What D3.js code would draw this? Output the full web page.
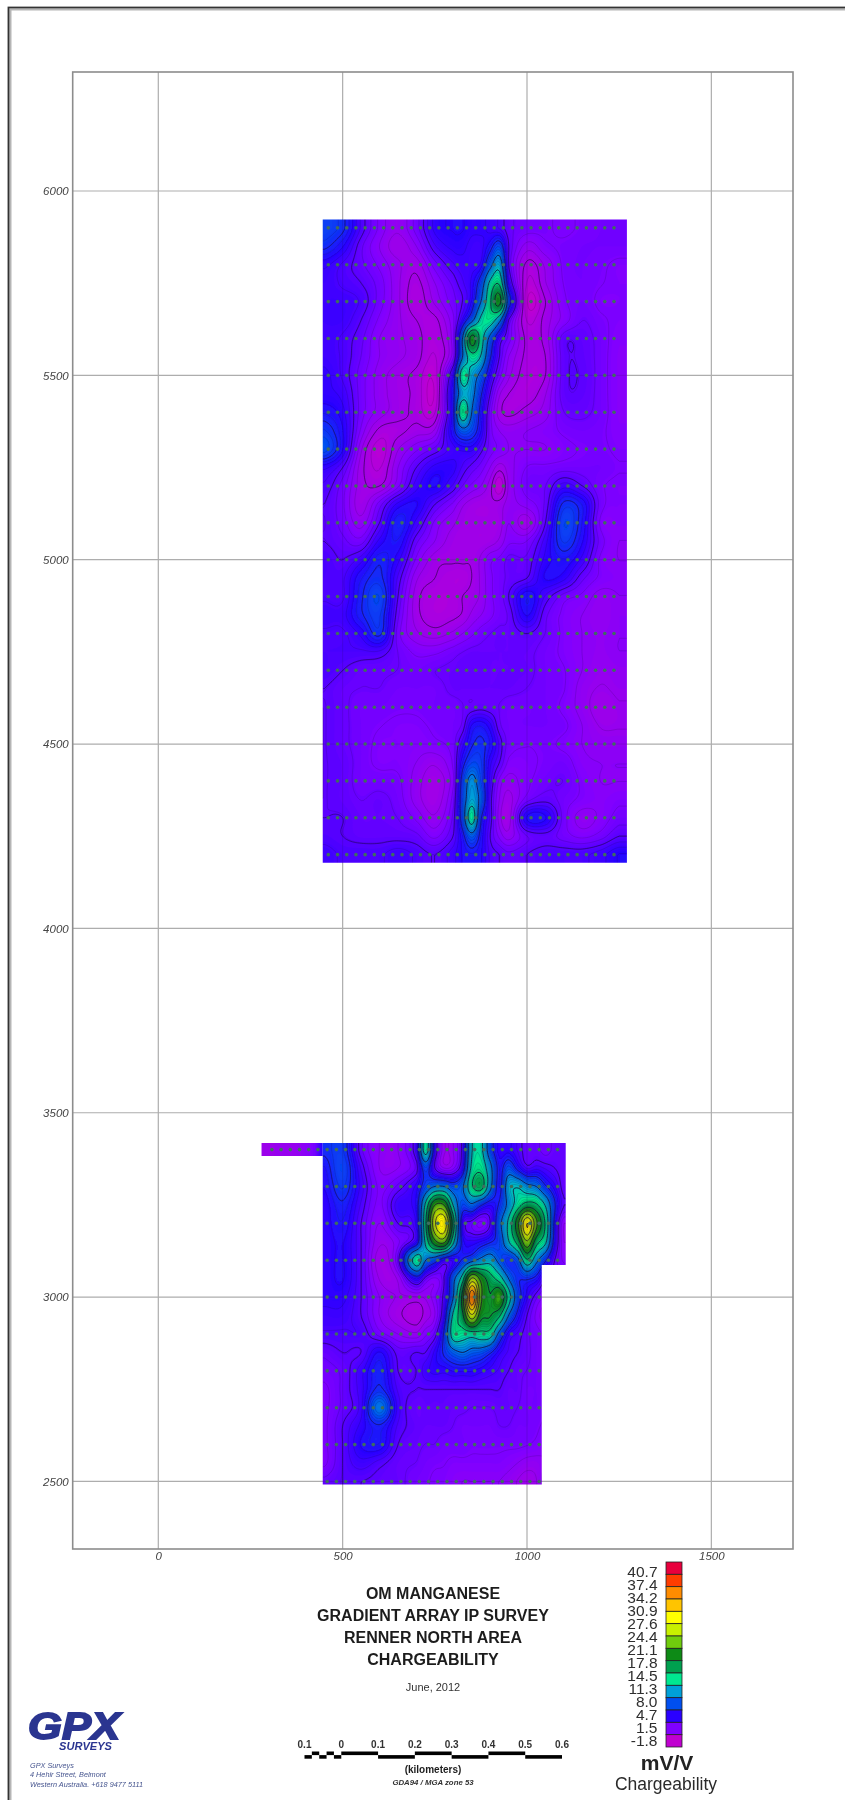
<!DOCTYPE html>
<html>
<head>
<meta charset="utf-8">
<title>Renner North chargeability</title>
<script src="https://cdnjs.cloudflare.com/ajax/libs/d3/7.8.5/d3.min.js"></script>
<style>
  html, body { margin: 0; padding: 0; background: #fff; }
  svg { display: block; font-family: "Liberation Sans", Arial, sans-serif; }
  .tick text { font-family: "Liberation Sans", Arial, sans-serif; font-style: italic; font-size: 11.5px; fill: #444; }
</style>
</head>
<body>
<svg id="map" width="845" height="1800"></svg>
<script>
/**
 * Data
 */

const xTickValues = [0, 500, 1000, 1500];
const yTickValues = [2500, 3000, 3500, 4000, 4500, 5000, 5500, 6000];

const legendValues = [40.7, 37.4, 34.2, 30.9, 27.6, 24.4, 21.1, 17.8, 14.5, 11.3, 8.0, 4.7, 1.5, -1.8];
const swatchColors = ['#e8003c', '#ff3c00', '#ff8c00', '#ffc400', '#ffff00', '#c8f000', '#70cc10', '#0e8a14',
                      '#00a050', '#00e890', '#00a0d8', '#0050f0', '#2a00ff', '#8000ff', '#c000d0'];

const titleLines = ['OM MANGANESE', 'GRADIENT ARRAY IP SURVEY', 'RENNER NORTH AREA', 'CHARGEABILITY'];
const addressLines = ['GPX Surveys', '4 Hehir Street, Belmont', 'Western Australia.   +618 9477 5111'];
const scaleBarLabels = [-0.1, 0, 0.1, 0.2, 0.3, 0.4, 0.5, 0.6];

// Chargeability (mV/V) by northing, sampled every 50 m along these eastings
const northEastings = [450, 500, 550, 600, 650, 700, 750, 800, 825, 850, 875, 900, 925, 950, 1000, 1050, 1100, 1150, 1200, 1250];
const northNorthings = [5900, 5850, 5800, 5750, 5700, 5650, 5600, 5550, 5500, 5450, 5400, 5350, 5300, 5250, 5200, 5150, 5100, 5050,
                        5000, 4950, 4900, 4850, 4800, 4750, 4700, 4650, 4600, 4550, 4500, 4450, 4400, 4350, 4300, 4250, 4200];

const n5900 = [6, 5, 2, 0, -1, .5, 3, 3.5, 3.5, 3, 3, 2.5, 2, 1, .5, .3, 0, .3, .5, .5];
const n5850 = [5, 3.5, 1, -.5, -1.5, -.5, 2, 3, 3, 2.5, 2.5, 4, 6, 1.5, -.8, 0, .3, .5, .5, .5];
const n5800 = [3, 2, 1, 0, -1, -1.5, .5, 2, 2.5, 2.5, 3, 7, 10, 1.5, -2, -1, .3, .5, .3, 0];
const n5750 = [2.5, 2, 1.5, .5, -1, -2, -.5, 1, 2, 3, 6, 12, 14, 3, -2.5, -1.2, .2, .5, .2, 0];
const n5700 = [2.5, 2.5, 2, .5, -1, -2.2, -1, .5, 1.5, 3.5, 8, 14, 19, 6, -3, -1.8, 0, .5, 0, 0];
const n5650 = [2.5, 2.5, 1.5, 0, -1, -1.8, -2, 0, 3, 7, 12, 13, 9, 1.5, -2.5, -1.5, -.2, .8, .3, 0];
const n5600 = [2.5, 2, 1, -.5, -1, -1.5, -2.2, 0, 8, 19, 13, 7, 2.5, .5, -2, -1.5, 1.2, 1.2, .5, -.2];
const n5550 = [2.5, 2, .8, -.5, -1, -1.5, -2.5, 0, 8, 13, 11, 5, 1.5, -.5, -2, -1.8, 1.2, 1.3, .5, -.3];
const n5500 = [3, 2, .5, -.8, -1.5, -2, -2.8, 3, 13, 10, 7, 3, .5, -1, -2.2, -1.8, 1.2, 1.4, .5, -.3];
const n5450 = [3, 2.5, .5, -.8, -1.5, -2, -3, 4, 10, 9, 5, 1.5, -1, -1.8, -2.2, -1.2, 1.2, 1.3, .5, -.3];
const n5400 = [4, 3, .5, -.8, -1.5, -2, -2.5, 4, 14, 8, 4, .5, -1.5, -2, -1.5, -.8, .8, 1, .5, -.3];
const n5350 = [5.5, 3.5, 0, -2, -2, -1.5, -1, 4, 7, 6, 3.5, .5, -.5, -.8, -.5, -.2, .3, .5, .3, -.2];
const n5300 = [6.5, 3.5, -1, -2.8, -1.2, 0, 1, 2.5, 3, 3, 1.8, .5, 0, -.5, -.5, -.5, 0, .2, .3, 0];
const n5250 = [3, 1.5, -1.5, -2.5, -.5, 1.5, 3, 3, 2, 1.2, .5, -.5, -1.5, -.8, .2, .3, .5, .5, .5, .2];
const n5200 = [2, .5, -1.5, -1.8, 0, 2.5, 3.5, 2, .8, 0, -.5, -1.5, -3, -1, .5, .8, 2.5, 1.5, .3, 0];
const n5150 = [1.5, .3, -1.5, .5, 3, 3.5, 1.5, 0, -1, -1.5, -1.7, -1.7, -1.5, -.8, -.2, 1, 5, 4, .5, 0];
const n5100 = [1.5, .5, -.8, 1.5, 4.5, 2.5, 0, -1, -1.5, -1.7, -1.7, -1.7, -1.5, -.5, -1.5, 1.5, 6, 4, 0, -.2];
const n5050 = [1.5, 1, .5, 3, 4, 1, -.5, -1.5, -1.7, -1.7, -1.7, -1.5, -1, 0, .2, 2.5, 5.5, 3.5, .5, -.5];
const n5000 = [2, 1.5, 2.5, 4.5, 3, 0, -1.5, -1.7, -1.7, -1.7, -1, 0, .3, 1, 1, 3, 4, 2.5, 0, -.5];
const n4950 = [2, 2, 4, 5, 2, -1, -1.8, -2.2, -2.2, -1.8, -1, 0, .5, 1, 1.5, 3.5, 3, 1, 0, -.3];
const n4900 = [2, 2, 4.5, 6, 1.5, -1.5, -2.2, -2.2, -1.8, -1.5, -1, 0, .5, 1.5, 4, 2, .5, 0, -.8, -.5];
const n4850 = [2.5, 2.5, 4.5, 5.5, 1, -1.5, -2.2, -2, -1.7, -1, -.5, 0, .5, 1, 3.5, 1, 0, -.5, -1, -.5];
const n4800 = [2, 2, 3, 5, .5, -1, -1.5, -1, -.5, 0, .5, .8, 1, 1, 1.5, .8, 0, -.5, -.8, -.5];
const n4750 = [2, 2, 2, 2, .8, 0, 0, .5, .8, 1, 1, 1, 1, 1, 1, .5, 0, -.5, -.8, -.5];
const n4700 = [2, 1.5, 1, 1, .8, .5, .8, 1, 1.2, 1.2, 1.2, 1, 1, 1, 1, .5, .2, -.5, -1, -.8];
const n4650 = [1.5, 1, .8, .8, .5, .5, .5, 1, 1, 1, 1, 1, 1, 1, .8, .5, .2, -.8, -1.2, -1];
const n4600 = [1.5, 1, .5, .5, .3, .3, .5, .5, .8, 1, 1.2, 1, .8, .5, .5, .5, 0, -.8, -1.5, -1.2];
const n4550 = [1.5, 1, .5, .2, 0, 0, .3, .5, 1, 3.5, 4, 3, 1, .5, .5, .5, .3, -.5, -1.2, -1.2];
const n4500 = [1.5, 1, .5, 0, 0, -.2, 0, .5, 2.5, 4.5, 5, 4, 2, .5, .2, .3, 0, -.5, -.8, -.8];
const n4450 = [1.5, 1.2, .5, 0, 0, -.5, -1, .3, 4, 6, 5.5, 3, 1.5, 0, 0, .3, .5, -.3, -.5, -.5];
const n4400 = [1.5, 1.2, .5, .5, .3, -.8, -1.6, 0, 5.5, 9, 6, 2.5, 0, -.8, 0, .6, .8, 0, -.5, -.5];
const n4350 = [1.5, 1.2, .8, 1, .5, -.8, -1.6, .5, 6, 10, 7, 2, -.5, -1.4, .5, 1.2, .5, 0, -.3, 0];
const n4300 = [1.5, 1.5, 1, 1, .8, 0, -1, 1, 6, 13, 5, 2, -.8, -1.5, 3.5, 3.5, .5, -.8, -.3, .5];
const n4250 = [1.8, 1.5, 1.2, 1.2, 1.2, 1, 0, 1.5, 4, 7, 4, 1.5, 0, -.8, .8, 1.2, .5, 0, .5, 1.5];
const n4200 = [2.5, 2, 2, 2, 2.5, 2, 1.5, 2.5, 3.5, 4, 3.5, 2, 1.5, 1, 1.5, 2, 2, 2, 2.5, 3.5];

const southEastings = [450, 500, 550, 600, 650, 700, 725, 750, 775, 800, 825, 850, 875, 900, 925, 950, 975, 1000, 1025, 1050, 1075, 1100];
const southNorthings = [3400, 3350, 3300, 3250, 3200, 3150, 3100, 3050, 3000, 2950, 2900, 2850, 2800, 2750, 2700, 2650, 2600, 2550, 2500];

const s3400 = [5, 5.5, 1, -.5, -.5, 2.5, 13, 3, -1, -.5, 2, 11, 12, 6, 3, 3, 2, 1, 1, .5, 1, 1];
const s3350 = [4, 6, 2, -.5, -.5, 1, 6, 1.5, -.5, 0, 3, 12, 13.5, 9, 4, 6.5, 4, 2, 2.5, 2, 1.5, 1];
const s3300 = [3.5, 5.5, 2.5, 0, 1, 3, 6, 8, 8, 6, 7.5, 14, 16, 9, 4, 10, 11, 9, 8, 5, 3, 1];
const s3250 = [3, 4.5, 2, 0, 2.5, 3.5, 12, 21, 21, 11, 6, 7.5, 5, 3.5, 5, 9, 13, 16, 15, 11, 5, 1.5];
const s3200 = [3, 4, 1.5, -.5, 1.5, 3, 14, 27, 30, 16, 3, 1, 0, 1.5, 7, 12, 20, 31, 22, 14, 4, -.5];
const s3150 = [3, 3.5, 1.5, -1, 0, 3, 12, 20, 22, 12, 4, 3, 3.5, 4.5, 6, 11, 16, 24, 16, 12, 3.5, -.5];
const s3100 = [3, 3.5, 1.5, -1.5, 1, 13, 8, 6, 3, 3, 5, 7, 9, 10, 7, 5, 7, 14, 9, 5, 1.5, 0];
const s3050 = [3, 3.5, 1.5, -1.2, -1, 3.5, 1, 0, 1.5, 7, 13, 25, 20, 16, 13, 8, 5, 5, 4, 1.5, 1, 1];
const s3000 = [3, 3, 1.5, -.5, -1.2, -1.2, -1, 0, 2, 8, 19, 37, 22, 18, 21, 13, 6, 3, 1, 0, 0, 0];
const s2950 = [2.5, 2.5, 1.5, -.5, -1.6, -2.2, -1.5, -.5, 3, 12, 17, 27, 19, 18, 15, 8, 4, 1.5, 0, -1, -1, -1];
const s2900 = [2, 2, 2, .5, -.5, -1, 0, 1, 5, 13, 13, 13, 13.5, 13, 7, 3, 2, 1, .5, 0, 0, 0];
const s2850 = [1, 1.5, 1.5, 3.5, 1.2, 1.5, 1.5, 3, 5, 7, 8, 7, 6.5, 5, 3, 2, 1.5, 1, .5, 0, 0, 0];
const s2800 = [.5, 1, 2.5, 4.5, 1.5, 1.5, 2.5, 3, 3, 3.5, 3.5, 3.5, 3, 2.5, 2, 1.5, 1, .8, .5, 0, 0, 0];
const s2750 = [0, 1, 2.5, 5, 2, 1.5, 1.5, 1.5, 1.5, 1.5, 1.5, 1.5, 1.5, 1.5, 1.5, 1, 1, .5, .5, .3, .3, .3];
const s2700 = [0, 1, 2.5, 8, 2.5, 1, 1.2, 1.2, 1.2, 1, 1, .8, .8, .8, 1, 1, .8, .5, .5, .3, .3, .3];
const s2650 = [0, 1.5, 3, 4.5, 2, 1.2, 1, 1, 1, .8, .5, .5, .5, .5, .8, .8, .5, .5, .3, 0, 0, 0];
const s2600 = [0, 1.5, 3.5, 4, 1.5, 1, .8, .8, .5, .5, .5, .3, .3, .3, .3, .3, .3, .2, 0, -.3, -.3, -.3];
const s2550 = [0, 1.5, 2.5, 1.8, 1, .8, .5, .3, .2, 0, 0, 0, 0, 0, 0, -.2, -.5, -.8, -.8, -.5, -.5, -.5];
const s2500 = [1, 1.5, 1.5, 1.2, 1, .5, .3, 0, 0, -.3, -.5, -.5, -.5, -.5, -.5, -.8, -1.2, -1.5, -1.2, 0, 0, 0];

// Short tie line running west from the top of the south block
const stripEastings = [275, 325, 375, 425, 450];
const stripNorthings = [3450, 3350];
const stripValues = [-1.5, -1.2, -1, .5, 4];

// Survey footprints, in local grid metres
const northOutline = [[446, 5923], [1271, 5923], [1271, 4178], [446, 4178]];
const southOutline = [[446, 3418], [1105, 3418], [1105, 3087], [1040, 3087], [1040, 2492], [446, 2492]];
const stripOutline = [[280, 3418], [446, 3418], [446, 3383], [280, 3383]];

// Stations along the survey lines
const northLines = [5900, 5800, 5700, 5600, 5500, 5400, 5300, 5200, 5100, 5000, 4900, 4800, 4700, 4600, 4500, 4400, 4300, 4200];
const northStations = [461, 486, 511, 536, 561, 586, 611, 636, 661, 686, 711, 736, 761, 786, 811, 836, 861, 886, 911, 936, 961, 986,
                       1011, 1036, 1061, 1086, 1111, 1136, 1161, 1186, 1211, 1236];
const southLines = [3400, 3300, 3200, 3100, 3000, 2900, 2800, 2700, 2600, 2500];
const southStations = [458, 483, 508, 533, 558, 583, 608, 633, 658, 683, 708, 733, 758, 783, 808, 833, 858, 883, 908, 933, 958, 983,
                       1008, 1033, 1058, 1083];
const stripStations = [308, 333, 358, 383, 408, 433];


/**
 * Layout
 */

const svg = d3.select('#map');

const plot = { left: 72.7, right: 793, top: 72, bottom: 1549 };
const pxPerMetre = 0.3687;

const x = d3.scaleLinear()
            .domain([(plot.left - 158.3) / pxPerMetre, (plot.right - 158.3) / pxPerMetre])
            .range([plot.left, plot.right]);

const y = d3.scaleLinear()
            .domain([6000 - (plot.bottom - 191) / pxPerMetre, 6000 + (191 - plot.top) / pxPerMetre])
            .range([plot.bottom, plot.top]);

// Colour sits at the middle of each legend band
const bandEdges = [43.9, ...legendValues, -5];
const bandMiddles = swatchColors.map((_, i) => (bandEdges[i] + bandEdges[i + 1]) / 2);
const color = d3.scaleLinear()
                .domain(bandMiddles.slice().reverse())
                .range(swatchColors.slice().reverse())
                .clamp(true);

const defs = svg.append('defs');
defs.append('filter').attr('id', 'soft').append('feGaussianBlur').attr('stdDeviation', 0.7);
defs.append('filter').attr('id', 'softText').append('feGaussianBlur').attr('stdDeviation', 0.35);

svg.append('rect').attr('width', 845).attr('height', 1800).attr('fill', '#fff');

// Page border runs off the right and bottom edges
svg.append('path')
   .attr('d', 'M9.5,1800V8.5H845')
   .attr('fill', 'none')
   .attr('stroke', '#b5b5b5')
   .attr('stroke-width', 4);
svg.append('path')
   .attr('d', 'M8.5,1800V7.5H845')
   .attr('fill', 'none')
   .attr('stroke', '#333')
   .attr('stroke-width', 1.6);


/**
 * Grid and axes
 */

const gridLayer = svg.append('g').attr('filter', 'url(#softText)');

function drawGrid(layer, stroke, width, opacity) {
  layer.selectAll(null)
       .data(xTickValues)
       .enter().append('line')
       .attr('x1', d => x(d)).attr('x2', d => x(d))
       .attr('y1', plot.top).attr('y2', plot.bottom)
       .attr('stroke', stroke).attr('stroke-width', width).attr('opacity', opacity);

  layer.selectAll(null)
       .data(yTickValues)
       .enter().append('line')
       .attr('x1', plot.left).attr('x2', plot.right)
       .attr('y1', d => y(d)).attr('y2', d => y(d))
       .attr('stroke', stroke).attr('stroke-width', width).attr('opacity', opacity);
}

drawGrid(gridLayer, '#adadad', 1.2, 1);

gridLayer.append('rect')
         .attr('x', plot.left).attr('y', plot.top)
         .attr('width', plot.right - plot.left).attr('height', plot.bottom - plot.top)
         .attr('fill', 'none').attr('stroke', '#8c8c8c').attr('stroke-width', 1.6);

const xAxis = svg.append('g')
                 .attr('filter', 'url(#softText)')
                 .attr('transform', `translate(0,${plot.bottom})`)
                 .call(d3.axisBottom(x).tickValues(xTickValues).tickFormat(d3.format('d')).tickSize(0).tickPadding(3));

const yAxis = svg.append('g')
                 .attr('filter', 'url(#softText)')
                 .attr('transform', `translate(${plot.left},0)`)
                 .call(d3.axisLeft(y).tickValues(yTickValues).tickFormat(d3.format('d')).tickSize(0).tickPadding(4));

xAxis.select('.domain').remove();
yAxis.select('.domain').remove();


/**
 * Chargeability surface
 */

const cellSize = 5;

function catmull(a, b, c, d, t) {
  return 0.5 * (2 * b + (c - a) * t + (2 * a - 5 * b + 4 * c - d) * t * t + (3 * b - a - 3 * c + d) * t * t * t);
}

// Gridding step: the readings above resampled to a fine raster for the contourer
function griddedSurface(rows, northings, eastings, outline) {
  const colIndex = d3.scaleLinear().domain(eastings).range(d3.range(eastings.length)).clamp(true);
  const rowIndex = d3.scaleLinear().domain(northings).range(d3.range(northings.length)).clamp(true);
  const lastCol = eastings.length - 1;
  const lastRow = northings.length - 1;

  const xMin = d3.min(outline, d => d[0]) - 2 * cellSize;
  const xMax = d3.max(outline, d => d[0]) + 2 * cellSize;
  const yMin = d3.min(outline, d => d[1]) - 2 * cellSize;
  const yMax = d3.max(outline, d => d[1]) + 2 * cellSize;
  const width = Math.ceil((xMax - xMin) / cellSize) + 1;
  const height = Math.ceil((yMax - yMin) / cellSize) + 1;

  const pick = (r, c) => rows[Math.max(0, Math.min(lastRow, r))][Math.max(0, Math.min(lastCol, c))];

  const values = [];
  for (let j = 0; j < height; j++) {
    const rowPos = rowIndex(yMax - j * cellSize);
    const r = Math.floor(rowPos);
    const v = rowPos - r;
    for (let i = 0; i < width; i++) {
      const colPos = colIndex(xMin + i * cellSize);
      const c = Math.floor(colPos);
      const u = colPos - c;
      const across = [-1, 0, 1, 2].map(dr =>
        catmull(pick(r + dr, c - 1), pick(r + dr, c), pick(r + dr, c + 1), pick(r + dr, c + 2), u));
      values.push(catmull(across[0], across[1], across[2], across[3], v));
    }
  }
  return { values, width, height, xMin, yMax };
}

function drawSurface(name, rows, northings, eastings, outline, withLines) {
  const surface = griddedSurface(rows, northings, eastings, outline);

  const path = d3.geoPath(d3.geoTransform({
    point(a, b) {
      this.stream.point(x(surface.xMin + (a - 0.5) * cellSize), y(surface.yMax - (b - 0.5) * cellSize));
    },
  }));

  defs.append('clipPath').attr('id', `clip-${name}`)
      .append('polygon')
      .attr('points', outline.map(d => [x(d[0]), y(d[1])].join(',')).join(' '));

  const layer = svg.append('g').attr('clip-path', `url(#clip-${name})`).append('g').attr('filter', 'url(#soft)');

  const contours = d3.contours().size([surface.width, surface.height]);

  const fillLevels = d3.range(-6, 44, 0.25);
  layer.selectAll(null)
       .data(contours.thresholds(fillLevels)(surface.values).filter(d => d.coordinates.length))
       .enter().append('path')
       .attr('d', path)
       .attr('fill', d => color(d.value));

  if (!withLines) return;

  const lineStep = (legendValues[0] - legendValues[legendValues.length - 1]) / 13 / 5;
  const minorLevels = d3.range(legendValues[13] - 2 * lineStep, 44, lineStep);
  layer.selectAll(null)
       .data(contours.thresholds(minorLevels)(surface.values).filter(d => d.coordinates.length))
       .enter().append('path')
       .attr('d', path)
       .attr('fill', 'none')
       .attr('stroke', '#14062e')
       .attr('stroke-width', 0.5)
       .attr('opacity', 0.3);

  // Heavy lines read stronger on the anomalies than on the quiet background
  layer.selectAll(null)
       .data(contours.thresholds(legendValues.slice().reverse())(surface.values).filter(d => d.coordinates.length))
       .enter().append('path')
       .attr('d', path)
       .attr('fill', 'none')
       .attr('stroke', '#14062e')
       .attr('stroke-width', 0.9)
       .attr('opacity', d => (d.value < 5 ? 0.5 : 0.8));
}

drawSurface('north',
            [n5900, n5850, n5800, n5750, n5700, n5650, n5600, n5550, n5500, n5450, n5400, n5350, n5300, n5250, n5200, n5150, n5100, n5050,
             n5000, n4950, n4900, n4850, n4800, n4750, n4700, n4650, n4600, n4550, n4500, n4450, n4400, n4350, n4300, n4250, n4200],
            northNorthings, northEastings, northOutline, true);

drawSurface('south',
            [s3400, s3350, s3300, s3250, s3200, s3150, s3100, s3050, s3000, s2950, s2900, s2850, s2800, s2750, s2700, s2650, s2600, s2550, s2500],
            southNorthings, southEastings, southOutline, true);

drawSurface('strip', [stripValues, stripValues], stripNorthings, stripEastings, stripOutline, false);

// Grid shows faintly through the surface
drawGrid(svg.append('g').attr('clip-path', 'url(#clip-north)'), '#1a1033', 1, 0.14);
drawGrid(svg.append('g').attr('clip-path', 'url(#clip-south)'), '#1a1033', 1, 0.14);


/**
 * Station dots
 */

const dotLayer = svg.append('g').attr('filter', 'url(#soft)');

const stationDots = [];
northLines.forEach(line => northStations.forEach(east => stationDots.push([east, line])));
southLines.forEach(line => southStations
  .filter(east => east < (line >= 3100 ? 1095 : 1040))
  .forEach(east => stationDots.push([east, line])));
stripStations.forEach(east => stationDots.push([east, 3400]));

dotLayer.selectAll('circle')
        .data(stationDots)
        .enter().append('circle')
        .attr('cx', d => x(d[0]))
        .attr('cy', d => y(d[1]))
        .attr('r', 1.8)
        .attr('fill', '#3d6e5e');


/**
 * Title block, scale bar, logo
 */

const notes = svg.append('g').attr('filter', 'url(#softText)').attr('fill', '#1d1d1d');

notes.selectAll(null)
     .data(titleLines)
     .enter().append('text')
     .attr('x', 433)
     .attr('y', (d, i) => 1598.5 + i * 22)
     .attr('text-anchor', 'middle')
     .attr('font-size', 16)
     .attr('font-weight', 'bold')
     .text(d => d);

notes.append('text')
     .attr('x', 433).attr('y', 1691)
     .attr('text-anchor', 'middle')
     .attr('font-size', 11)
     .attr('fill', '#333')
     .text('June, 2012');

const scaleBar = d3.scaleLinear().domain([-0.1, 0.6]).range([304.5, 562]);
const barTop = 1751.5;
const barHeight = 3.6;
const barBlocks = [[-0.1, -0.08, 1], [-0.08, -0.06, 0], [-0.06, -0.04, 1], [-0.04, -0.02, 0], [-0.02, 0, 1],
                   [0, 0.1, 0], [0.1, 0.2, 1], [0.2, 0.3, 0], [0.3, 0.4, 1], [0.4, 0.5, 0], [0.5, 0.6, 1]];

notes.selectAll(null)
     .data(barBlocks)
     .enter().append('rect')
     .attr('x', d => scaleBar(d[0]))
     .attr('y', d => barTop + d[2] * barHeight)
     .attr('width', d => scaleBar(d[1]) - scaleBar(d[0]))
     .attr('height', barHeight)
     .attr('fill', '#000');

notes.selectAll(null)
     .data(scaleBarLabels)
     .enter().append('text')
     .attr('x', d => scaleBar(d))
     .attr('y', 1748)
     .attr('text-anchor', 'middle')
     .attr('font-size', 10)
     .attr('font-weight', 'bold')
     .attr('fill', '#333')
     .text(d => Math.abs(d));

notes.append('text')
     .attr('x', 433).attr('y', 1772.5)
     .attr('text-anchor', 'middle')
     .attr('font-size', 10)
     .attr('font-weight', 'bold')
     .text('(kilometers)');

notes.append('text')
     .attr('x', 433).attr('y', 1785)
     .attr('text-anchor', 'middle')
     .attr('font-size', 7.8)
     .attr('font-weight', 'bold')
     .attr('font-style', 'italic')
     .attr('fill', '#333')
     .text('GDA94 / MGA zone 53');

notes.append('text')
     .attr('x', 28).attr('y', 1739)
     .attr('font-size', 37)
     .attr('font-weight', 'bold')
     .attr('font-style', 'italic')
     .attr('textLength', 92)
     .attr('lengthAdjust', 'spacingAndGlyphs')
     .attr('fill', '#2b3590')
     .attr('stroke', '#2b3590')
     .attr('stroke-width', 1.8)
     .text('GPX');

notes.append('text')
     .attr('x', 59).attr('y', 1750)
     .attr('font-size', 10.5)
     .attr('font-weight', 'bold')
     .attr('font-style', 'italic')
     .attr('textLength', 53)
     .attr('lengthAdjust', 'spacingAndGlyphs')
     .attr('fill', '#2b3590')
     .text('SURVEYS');

notes.selectAll(null)
     .data(addressLines)
     .enter().append('text')
     .attr('x', 30)
     .attr('y', (d, i) => 1767.5 + i * 9.5)
     .attr('font-size', 7.3)
     .attr('font-style', 'italic')
     .attr('fill', '#45548e')
     .text(d => d);


/**
 * Legend
 */

const legendLayer = svg.append('g').attr('filter', 'url(#softText)');

const legendBand = d3.scaleBand()
                     .domain(swatchColors)
                     .range([1562, 1747]);

legendLayer.selectAll('rect')
           .data(swatchColors)
           .enter().append('rect')
           .attr('x', 666)
           .attr('y', d => legendBand(d))
           .attr('width', 16)
           .attr('height', legendBand.bandwidth())
           .attr('fill', d => d)
           .attr('stroke', '#222')
           .attr('stroke-width', 0.8);

const legendLabelY = d3.scalePoint().domain(legendValues).range([1577, 1746]);

legendLayer.selectAll('text')
           .data(legendValues)
           .enter().append('text')
           .attr('x', 657.5)
           .attr('y', d => legendLabelY(d))
           .attr('text-anchor', 'end')
           .attr('font-size', 15.5)
           .attr('fill', '#2e2e2e')
           .text(d => d.toFixed(1));

legendLayer.append('text')
           .attr('x', 667).attr('y', 1770)
           .attr('text-anchor', 'middle')
           .attr('font-size', 21)
           .attr('font-weight', 'bold')
           .attr('fill', '#222')
           .text('mV/V');

legendLayer.append('text')
           .attr('x', 666).attr('y', 1790)
           .attr('text-anchor', 'middle')
           .attr('font-size', 17.5)
           .attr('fill', '#2a2a2a')
           .text('Chargeability');
</script>
</body>
</html>
